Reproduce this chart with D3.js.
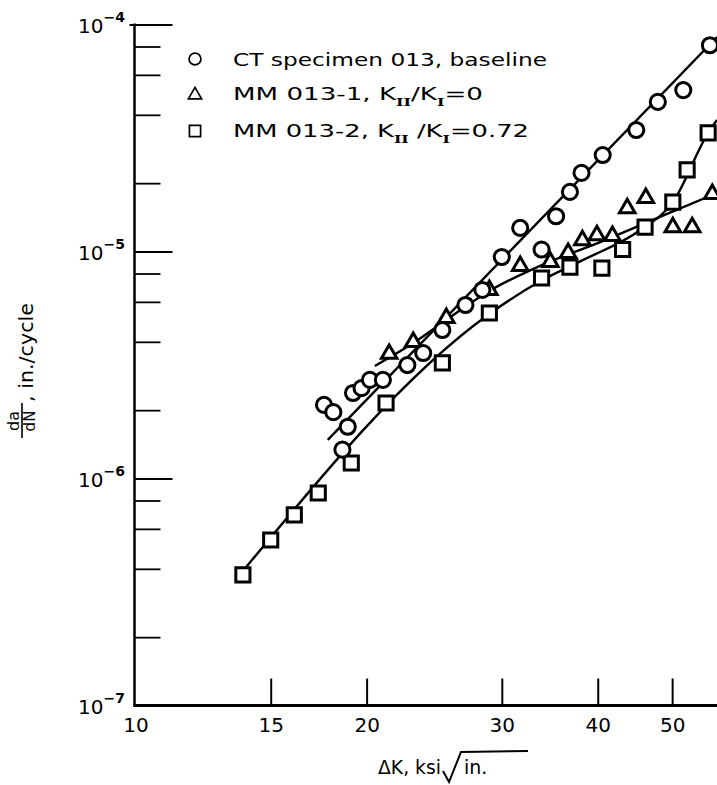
<!DOCTYPE html>
<html>
<head>
<meta charset="utf-8">
<script src="https://cdn.jsdelivr.net/npm/d3@7"></script>
<style>
  html, body { margin: 0; padding: 0; background: #fff; }
  svg { display: block; }
  text { font-family: "DejaVu Sans", sans-serif; fill: #000; }
</style>
</head>
<body>
<svg id="chart" width="717" height="785"></svg>
<script>
(() => {
  /* ---------- DATA ---------- */

  const X_TICKS = [10, 15, 20, 30, 40, 50];
  const Y_MAJOR = [1e-4, 1e-5, 1e-6, 1e-7];
  const Y_EXP = ["\u22124", "\u22125", "\u22126", "\u22127"];
  const Y_MINOR_MULT = [2, 4, 6, 8];

  // CT specimen 013, baseline (circles)
  const ctDK = [17.6, 18.1, 18.9, 18.6, 19.2, 19.7, 20.2, 21.0, 22.6, 23.7, 25.1, 26.9,
                28.3, 30.0, 31.7, 33.8, 35.3, 36.8, 38.1, 40.6, 44.9, 47.9, 51.7, 56.0];
  const ctRate = [2.11e-6, 1.96e-6, 1.69e-6, 1.34e-6, 2.38e-6, 2.50e-6, 2.72e-6, 2.72e-6,
                  3.16e-6, 3.57e-6, 4.51e-6, 5.81e-6, 6.77e-6, 9.46e-6, 1.27e-5, 1.02e-5,
                  1.43e-5, 1.83e-5, 2.22e-5, 2.66e-5, 3.43e-5, 4.56e-5, 5.14e-5, 8.10e-5];

  // MM 013-1, KII/KI = 0 (triangles)
  const mm1DK = [21.4, 23.0, 25.4, 28.9, 31.7, 34.7, 36.6, 38.2, 39.9, 41.8, 43.7, 46.2,
                 50.1, 53.1, 56.4];
  const mm1Rate = [3.54e-6, 3.99e-6, 5.09e-6, 6.77e-6, 8.63e-6, 8.99e-6, 9.85e-6, 1.12e-5,
                   1.18e-5, 1.17e-5, 1.55e-5, 1.72e-5, 1.28e-5, 1.28e-5, 1.79e-5];

  // MM 013-2, KII/KI = 0.72 (squares)
  const mm2DK = [13.8, 15.0, 16.1, 17.3, 19.1, 21.2, 25.1, 28.9, 33.8, 36.8, 40.5, 43.1,
                 46.1, 50.1, 52.3, 55.7];
  const mm2Rate = [3.76e-7, 5.36e-7, 6.91e-7, 8.63e-7, 1.17e-6, 2.15e-6, 3.23e-6, 5.36e-6,
                   7.64e-6, 8.54e-6, 8.45e-6, 1.02e-5, 1.28e-5, 1.65e-5, 2.29e-5, 3.33e-5];

  // hand-drawn fit curves
  const ctFitDK = [17.8, 57.2];
  const ctFitRate = [1.48e-6, 8.81e-5];
  const mm1FitDK = [20.5, 23.0, 25.7, 28.9, 33.6, 40.3, 48.2, 57.2];
  const mm1FitRate = [3.13e-6, 3.95e-6, 5.14e-6, 6.7e-6, 8.63e-6, 1.1e-5, 1.42e-5, 1.81e-5];
  const mm2FitDK = [13.5, 28.9, 33.7, 38.3, 45.4, 50.1, 55.7, 57.2];
  const mm2FitRate = [3.57e-7, 5.31e-6, 7.41e-6, 9.18e-6, 1.24e-5, 1.65e-5, 3.33e-5, 3.8e-5];

  /* ---------- SCALES ---------- */

  const svg = d3.select("#chart");
  const AXIS_X = 134.5;

  const x = d3.scaleLog().domain([10, 57.2]).range([135.5, 717]);
  const y = d3.scaleLog().domain([1e-7, 1e-4]).range([705.5, 24.5]);

  /* ---------- AXES ---------- */

  const yMinor = Y_MAJOR.slice(1).flatMap(p => Y_MINOR_MULT.map(m => m * p));

  svg.append("g")
    .attr("transform", `translate(${AXIS_X},0)`)
    .call(d3.axisRight(y).tickValues(yMinor).tickSize(26).tickFormat(""))
    .call(g => g.select(".domain").remove())
    .call(g => g.selectAll("line").attr("stroke", "#000").attr("stroke-width", 1.8));

  svg.append("g")
    .attr("transform", `translate(${AXIS_X},0)`)
    .call(d3.axisRight(y).tickValues(Y_MAJOR).tickSize(38).tickFormat(""))
    .call(g => g.select(".domain").remove())
    .call(g => g.selectAll("line").attr("stroke", "#000").attr("stroke-width", 2)
      .attr("x1", d => d === 1e-4 ? -5 : 0));

  // y labels 10^n
  Y_MAJOR.forEach((v, i) => {
    const t = svg.append("text")
      .attr("x", 125)
      .attr("y", y(v) + 8)
      .attr("text-anchor", "end")
      .style("font-size", "20px");
    t.append("tspan").text("10");
    t.append("tspan")
      .attr("dy", -11)
      .style("font-size", "14px")
      .style("font-weight", "bold")
      .text(Y_EXP[i]);
  });

  // x ticks
  svg.append("g")
    .attr("transform", `translate(0,${y(1e-7)})`)
    .call(d3.axisBottom(x).tickValues(X_TICKS).tickSize(-27).tickPadding(12)
      .tickFormat(d3.format("d")))
    .call(g => g.select(".domain").remove())
    .call(g => g.selectAll("line").attr("stroke", "#000").attr("stroke-width", 2)
      .filter(d => d === 10).remove())
    .call(g => g.selectAll("text")
      .attr("font-family", null)
      .style("font-size", "20px"));

  // axis lines
  svg.append("line")
    .attr("x1", AXIS_X).attr("x2", AXIS_X)
    .attr("y1", y(1e-4) - 1).attr("y2", y(1e-7) + 1)
    .attr("stroke", "#000").attr("stroke-width", 2.5);
  svg.append("line")
    .attr("x1", AXIS_X - 1).attr("x2", 717)
    .attr("y1", y(1e-7)).attr("y2", y(1e-7))
    .attr("stroke", "#000").attr("stroke-width", 3);

  /* ---------- AXIS TITLES ---------- */

  svg.append("text")
    .attr("x", 378)
    .attr("y", 774)
    .attr("textLength", 63).attr("lengthAdjust", "spacingAndGlyphs")
    .style("font-size", "19px")
    .text("\u0394K, ksi");
  svg.append("path")
    .attr("d", "M443,771 L449,782 L461,752 L528,751")
    .attr("fill", "none")
    .attr("stroke", "#000")
    .attr("stroke-width", 2);
  svg.append("text")
    .attr("x", 464)
    .attr("y", 774)
    .style("font-size", "19px")
    .text("in.");

  const yl = svg.append("g")
    .attr("transform", "translate(22,441) rotate(-90)");
  yl.append("text")
    .attr("x", 20).attr("y", -3)
    .attr("text-anchor", "middle")
    .style("font-size", "16px")
    .text("da");
  yl.append("line")
    .attr("x1", 3).attr("x2", 38)
    .attr("y1", 0).attr("y2", 0)
    .attr("stroke", "#000").attr("stroke-width", 1.6);
  yl.append("text")
    .attr("x", 20).attr("y", 13)
    .attr("text-anchor", "middle")
    .style("font-size", "15px")
    .text("dN");
  yl.append("text")
    .attr("x", 39).attr("y", 11)
    .attr("textLength", 99).attr("lengthAdjust", "spacingAndGlyphs")
    .style("font-size", "19px")
    .text(", in./cycle");

  /* ---------- FIT LINES ---------- */

  const line = d3.line()
    .x(d => x(d[0]))
    .y(d => y(d[1]))
    .curve(d3.curveMonotoneX);

  [[mm2FitDK, mm2FitRate], [mm1FitDK, mm1FitRate], [ctFitDK, ctFitRate]].forEach(([dk, r]) => {
    svg.append("path")
      .datum(dk.map((v, i) => [v, r[i]]))
      .attr("d", line)
      .attr("fill", "none")
      .attr("stroke", "#000")
      .attr("stroke-width", 2.4);
  });

  /* ---------- MARKERS ---------- */

  const SHAPES = {
    square: d3.symbol().type(d3.symbolSquare).size(200),
    triangle: d3.symbol().type(d3.symbolTriangle).size(105),
    circle: d3.symbol().type(d3.symbolCircle).size(180)
  };

  function drawMarkers(dk, rate, shape) {
    svg.append("g")
      .selectAll("path")
      .data(dk.map((v, i) => [v, rate[i]]))
      .join("path")
      .attr("transform", d => `translate(${x(d[0])},${y(d[1])})`)
      .attr("d", SHAPES[shape]())
      .attr("fill", "#fff")
      .attr("stroke", "#000")
      .attr("stroke-width", 3);
  }

  drawMarkers(mm2DK, mm2Rate, "square");
  drawMarkers(mm1DK, mm1Rate, "triangle");
  drawMarkers(ctDK, ctRate, "circle");

  /* ---------- LEGEND ---------- */

  const LEGEND_X = 195;
  const TEXT_X = 233;

  const legendSym = [
    { shape: d3.symbolCircle, size: 110, cy: 59 },
    { shape: d3.symbolTriangle, size: 75, cy: 95 },
    { shape: d3.symbolSquare, size: 125, cy: 131 }
  ];
  legendSym.forEach(s => {
    svg.append("path")
      .attr("transform", `translate(${LEGEND_X},${s.cy})`)
      .attr("d", d3.symbol().type(s.shape).size(s.size)())
      .attr("fill", "#fff")
      .attr("stroke", "#000")
      .attr("stroke-width", 1.7);
  });

  function sub(t, txt) {
    t.append("tspan")
      .attr("dy", 6)
      .style("font-family", "'DejaVu Serif', serif")
      .style("font-weight", "bold")
      .style("font-size", "11px")
      .text(txt);
  }

  const l1 = svg.append("text")
    .attr("x", TEXT_X).attr("y", 66)
    .attr("textLength", 314).attr("lengthAdjust", "spacingAndGlyphs")
    .style("font-size", "18px");
  l1.append("tspan").text("CT specimen 013, baseline");

  const l2 = svg.append("text")
    .attr("x", TEXT_X).attr("y", 100)
    .attr("textLength", 250).attr("lengthAdjust", "spacingAndGlyphs")
    .style("font-size", "18px");
  l2.append("tspan").text("MM 013-1, K");
  sub(l2, "II");
  l2.append("tspan").attr("dy", -6).text("/K");
  sub(l2, "I");
  l2.append("tspan").attr("dy", -6).text("=0");

  const l3 = svg.append("text")
    .attr("x", TEXT_X).attr("y", 137)
    .attr("textLength", 296).attr("lengthAdjust", "spacingAndGlyphs")
    .style("font-size", "18px");
  l3.append("tspan").text("MM 013-2, K");
  sub(l3, "II");
  l3.append("tspan").attr("dy", -6).text(" /K");
  sub(l3, "I");
  l3.append("tspan").attr("dy", -6).text("=0.72");
})();
</script>
</body>
</html>
